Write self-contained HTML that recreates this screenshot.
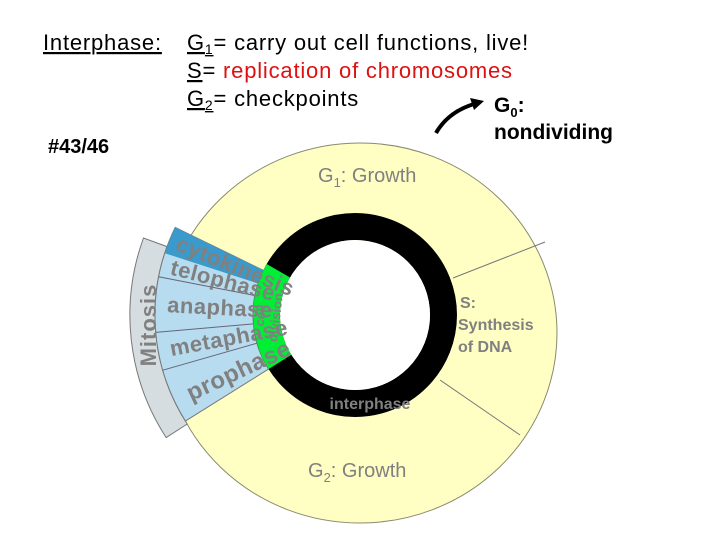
<!DOCTYPE html>
<html><head><meta charset="utf-8"><style>
body{margin:0;background:#fff;}
svg{display:block;font-family:"Liberation Sans",sans-serif;}
</style></head><body>
<svg width="720" height="540" viewBox="0 0 720 540">
<ellipse cx="360" cy="333" rx="197" ry="190" fill="#ffffc4" stroke="#8a8a70" stroke-width="1"/>
<line x1="453" y1="278" x2="545" y2="242" stroke="#777" stroke-width="1"/>
<line x1="440" y1="380" x2="520" y2="435" stroke="#777" stroke-width="1"/>
<path d="M143.5,238 A225,225 0 0,0 166.2,437.6 L187.2,424 A200,200 0 0,1 167,246.6 Z" fill="#d5dde0" stroke="#777" stroke-width="1"/>
<path d="M185.4,421 A200,200 0 0,1 175.2,227.4 L263.3,270.3 A102,102 0 0,0 268.5,369.1 Z" fill="#b7dcef" stroke="#777" stroke-width="1"/>
<path d="M164.8,253.2 A200,200 0 0,1 175.2,227.4 L263.3,270.3 A102,102 0 0,0 258,283.5 Z" fill="#3a9acb"/>
<line x1="158.6" y1="276.8" x2="254.8" y2="295.5" stroke="#667" stroke-width="1"/>
<line x1="155.8" y1="332.4" x2="253.4" y2="323.9" stroke="#667" stroke-width="1"/>
<line x1="162.8" y1="370.2" x2="257" y2="343.2" stroke="#667" stroke-width="1"/>
<circle cx="355" cy="315" r="88.5" fill="none" stroke="#000" stroke-width="27"/>
<circle cx="355" cy="315" r="75" fill="#fff"/>
<path d="M268.5,369.1 A102,102 0 0,1 266.7,264 L290,277.5 A75,75 0 0,0 291.4,354.8 Z" fill="#00ee33"/>
<g fill="#808080" font-weight="bold" font-size="22" letter-spacing="0.5">
<text x="163" y="322" transform="rotate(22 355 315)">cytokinesis</text>
<text x="165" y="322" transform="rotate(14.5 355 315)">telophase</text>
<text x="167" y="322" transform="rotate(3 355 315)">anaphase</text>
<text x="167" y="322" transform="rotate(-10.5 355 315)">metaphase</text>
<text x="170" y="324" font-size="24" transform="rotate(-25 355 315)">prophase</text>
</g>
<text fill="#808080" font-weight="bold" font-size="22" letter-spacing="1" text-anchor="middle" transform="translate(156 325) rotate(-90)" y="0">Mitosis</text>
<g fill="#808080" font-weight="bold" font-size="13" text-anchor="middle">
<text transform="translate(265 316) rotate(-83)">cell</text>
<text transform="translate(280 318) rotate(-83)">division</text>
</g>
<text x="370" y="409" fill="#808080" font-weight="bold" font-size="16" text-anchor="middle">interphase</text>
<g fill="#808080" font-size="20">
<text x="318" y="182">G<tspan font-size="13" dy="5">1</tspan><tspan dy="-5">: Growth</tspan></text>
<text x="308" y="477">G<tspan font-size="13" dy="5">2</tspan><tspan dy="-5">: Growth</tspan></text>
</g>
<g fill="#808080" font-weight="bold" font-size="16">
<text x="460" y="308">S:</text>
<text x="458" y="330">Synthesis</text>
<text x="458" y="352">of DNA</text>
</g>
<g font-size="22" fill="#000" letter-spacing="0.8">
<text x="43" y="50" text-decoration="underline">Interphase:</text>
<text x="187" y="50"><tspan text-decoration="underline">G<tspan font-size="14" dy="4">1</tspan></tspan><tspan dy="-4">= carry out cell functions, live!</tspan></text>
<text x="187" y="78"><tspan text-decoration="underline">S</tspan>=<tspan fill="#dd1111"> replication of chromosomes</tspan></text>
<text x="187" y="106"><tspan text-decoration="underline">G<tspan font-size="14" dy="4">2</tspan></tspan><tspan dy="-4">= checkpoints</tspan></text>
</g>
<text x="48" y="153" font-weight="bold" font-size="20">#43/46</text>
<text x="494" y="112" font-weight="bold" font-size="21">G<tspan font-size="13" dy="5">0</tspan><tspan dy="-5">:</tspan></text>
<text x="494" y="139" font-weight="bold" font-size="21">nondividing</text>
<path d="M436,133 Q448,112 474,104" fill="none" stroke="#000" stroke-width="4"/>
<polygon points="484,101 470,98 474,110" fill="#000"/>
</svg>
</body></html>
